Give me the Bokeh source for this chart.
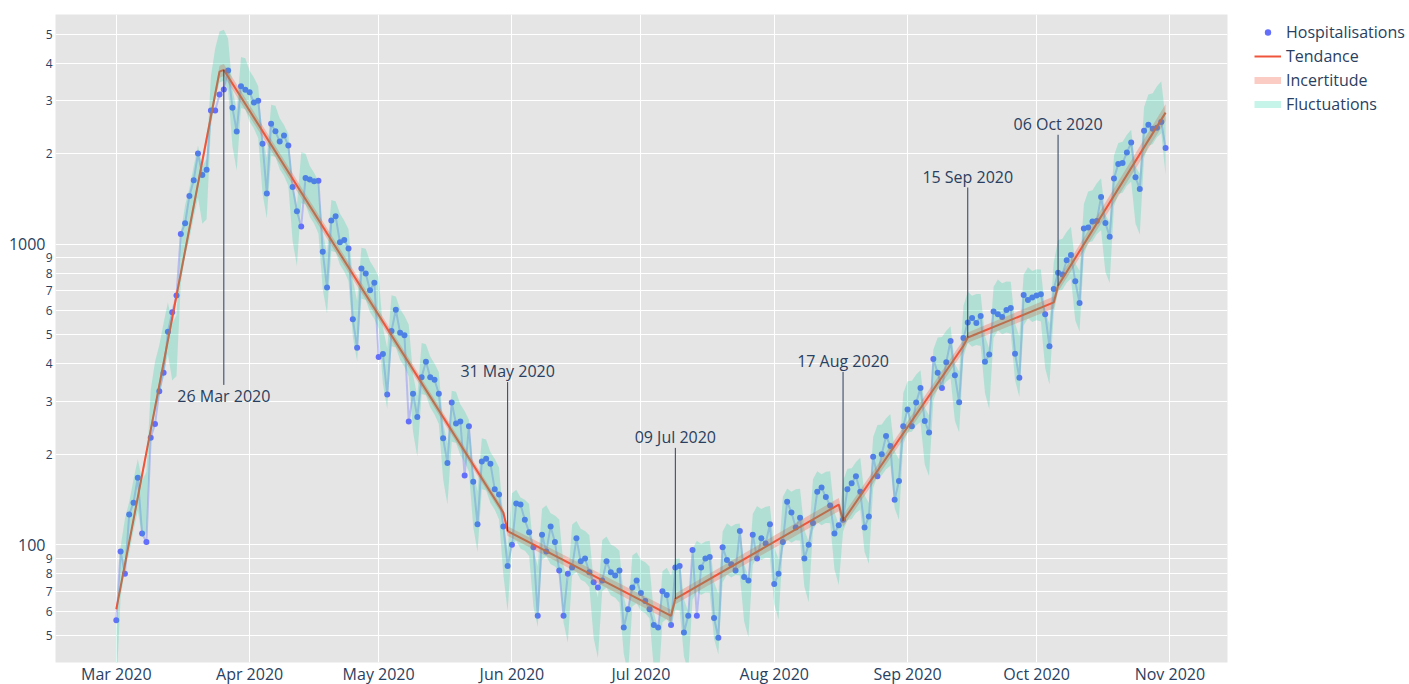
import numpy as np
import pandas as pd
from bokeh.plotting import figure
from bokeh.models import (FixedTicker, CustomJSTickFormatter, DatetimeTickFormatter,
                          LogAxis, Legend, LegendItem, Label, Range1d)
from bokeh.embed import file_html
from bokeh.resources import INLINE

# ---------------- data ----------------
start_date = "2020-03-01"
hosp_mar = [56, 95, 80, 126, 138, 167, 109, 102, 227, 252, 324, 373, 511, 594, 675, 1080,
            1174, 1447, 1632, 2001, 1699, 1770, 2786, 2786, 3148, 3273, 3785, 2845, 2372, 3356, 3266]
hosp_apr = [3200, 2958, 3002, 2160, 1473, 2518, 2373, 2194, 2301, 2128, 1550, 1287, 1145, 1661,
            1640, 1619, 1627, 943, 718, 1198, 1239, 1015, 1033, 967, 562, 452, 830, 799, 703, 744]
hosp_may = [421, 431, 316, 514, 605, 507, 498, 257, 318, 266, 361, 406, 361, 354, 318, 226, 187,
            297, 253, 257, 170, 248, 162, 117, 189, 193, 186, 153, 147, 115, 85]
hosp_jun = [100, 137, 136, 121, 110, 98, 58, 108, 95, 115, 102, 82, 58, 80, 84, 105, 88, 90, 81,
            75, 72, 76, 88, 81, 79, 82, 53, 61, 72, 76]
hosp_jul = [69, 65, 61, 54, 53, 70, 68, 54, 84, 85, 51, 58, 96, 58, 84, 90, 91, 57, 49, 98, 89,
            86, 82, 111, 78, 76, 108, 90, 105, 101, 117]
hosp_aug = [74, 80, 102, 139, 128, 114, 123, 90, 100, 118, 150, 155, 144, 135, 109, 116, 121,
            153, 160, 169, 150, 114, 124, 196, 169, 200, 230, 213, 141, 163, 248]
hosp_sep = [282, 248, 297, 332, 258, 236, 415, 373, 332, 405, 476, 366, 298, 487, 549, 568, 547,
            577, 406, 429, 597, 584, 572, 604, 613, 432, 359, 677, 652, 665]
hosp_oct = [675, 681, 584, 457, 709, 804, 792, 884, 921, 752, 637, 1127, 1136, 1190, 1195, 1436,
            1177, 1058, 1653, 1849, 1863, 2017, 2177, 1670, 1527, 2386, 2498, 2423, 2442, 2548, 2090]

# trend: start / end of each segment (pairs)
trend_dates = ["2020-03-01", "2020-03-25", "2020-03-26", "2020-05-30", "2020-05-31", "2020-07-08",
               "2020-07-09", "2020-08-16", "2020-08-17", "2020-09-14", "2020-09-15", "2020-10-05",
               "2020-10-06", "2020-10-31"]
trend_values = [61, 3750, 3800, 128, 111, 58, 66, 136, 120, 459, 489, 640, 727, 2740]
trend_unc_log = [0.012, 0.02, 0.02, 0.013, 0.016, 0.02, 0.018, 0.022, 0.02, 0.02, 0.017, 0.02,
                 0.02, 0.028]

# weekly fluctuation envelope relative to trend (Mon..Sun)
fluct_lo = [0.92, 0.96, 0.92, 0.92, 0.90, 0.62, 0.54]
fluct_hi = [1.36, 1.42, 1.36, 1.36, 1.34, 0.96, 0.86]

ann_dates = ["2020-03-26", "2020-05-31", "2020-07-09", "2020-08-17", "2020-09-15", "2020-10-06"]
ann_labels = ["26 Mar 2020", "31 May 2020", "09 Jul 2020", "17 Aug 2020", "15 Sep 2020", "06 Oct 2020"]
ann_offset_px = [326, -160, -162, -160, -161, -162]

month_ticks = ["2020-03-01", "2020-04-01", "2020-05-01", "2020-06-01", "2020-07-01",
               "2020-08-01", "2020-09-01", "2020-10-01", "2020-11-01"]
y_minor_ticks = [50, 60, 70, 80, 90, 200, 300, 400, 500, 600, 700, 800, 900, 2000, 3000, 4000, 5000]
y_major_ticks = [100, 1000]

# ---------------- derived ----------------
hosp = hosp_mar + hosp_apr + hosp_may + hosp_jun + hosp_jul + hosp_aug + hosp_sep + hosp_oct
days = pd.date_range(start_date, periods=len(hosp), freq="D")
tdates = pd.to_datetime(trend_dates)
tvals = np.array(trend_values, dtype=float)
tunc = np.array(trend_unc_log)
unc_lo = tvals / 10 ** tunc
unc_hi = tvals * 10 ** tunc

log_tr = np.full(len(days), np.nan)
for k in range(0, len(trend_dates), 2):
    a, b = tdates[k], tdates[k + 1]
    la, lb = np.log10(tvals[k]), np.log10(tvals[k + 1])
    m = (days >= a) & (days <= b)
    frac = np.asarray((days[m] - a) / (b - a), dtype=float)
    log_tr[m] = la + (lb - la) * frac
tr_daily = 10 ** log_tr
wd = days.weekday
band_lo = tr_daily * np.array(fluct_lo)[wd]
band_hi = tr_daily * np.array(fluct_hi)[wd]

# ---------------- figure ----------------
FONT = "Open Sans"
TXT = "#2a3f5f"
FW, FH = 1172, 648
Y0, Y1 = 40.55, 5810
t0 = pd.Timestamp(start_date)
x0 = t0 - pd.Timedelta(days=14.14)
x1 = t0 + pd.Timedelta(days=258.4)

p = figure(x_axis_type="datetime", y_axis_type="log", frame_width=FW, frame_height=FH,
           x_range=Range1d(x0, x1), y_range=Range1d(Y0, Y1),
           output_backend="svg", toolbar_location=None,
           min_border_left=55, min_border_right=182, min_border_top=14, min_border_bottom=0,
           background_fill_color="#e5e5e5", border_fill_color="white", outline_line_color=None)

p.xgrid.ticker = FixedTicker(ticks=[pd.Timestamp(d).value / 1e6 for d in month_ticks])
p.ygrid.ticker = FixedTicker(ticks=sorted(y_minor_ticks + y_major_ticks))
p.grid.grid_line_color = "white"
p.grid.grid_line_width = 1

xa = p.xaxis[0]
xa.ticker = FixedTicker(ticks=[pd.Timestamp(d).value / 1e6 for d in month_ticks])
fmt = "%b %Y"
xa.formatter = DatetimeTickFormatter(microseconds=fmt, milliseconds=fmt, seconds=fmt, minsec=fmt,
                                     minutes=fmt, hourmin=fmt, hours=fmt, days=fmt, months=fmt,
                                     years=fmt)
xa.major_label_text_font = FONT
xa.major_label_text_font_size = "16px"
xa.major_label_text_color = TXT
xa.major_label_standoff = 0
xa.axis_line_color = None
xa.major_tick_line_color = None
xa.minor_tick_line_color = None
xa.major_tick_out = 0
xa.minor_tick_out = 0

ya = p.yaxis[0]
ya.ticker = FixedTicker(ticks=y_minor_ticks)
ya.formatter = CustomJSTickFormatter(code="return String(Math.round(tick)).charAt(0);")
ya.major_label_text_font = FONT
ya.major_label_text_font_size = "12px"
ya.major_label_text_color = TXT
ya.major_label_standoff = 3
ya.axis_line_color = None
ya.major_tick_line_color = None
ya.minor_tick_line_color = None
ya.major_tick_out = 0
ya.minor_tick_out = 0

ya2 = LogAxis(ticker=FixedTicker(ticks=y_major_ticks),
              formatter=CustomJSTickFormatter(code="return String(Math.round(tick));"))
ya2.major_label_text_font = FONT
ya2.major_label_text_font_size = "16px"
ya2.major_label_text_color = TXT
ya2.major_label_standoff = -3
ya2.axis_line_color = None
ya2.major_tick_line_color = None
ya2.minor_tick_line_color = None
ya2.major_tick_out = 0
ya2.minor_tick_out = 0
p.add_layout(ya2, "left")

# data line + markers
p.line(days, hosp, line_color="#636efa", line_alpha=0.35, line_width=2)
r_pts = p.scatter(days, hosp, size=6, fill_color="#636efa", line_color=None)
# trend
r_tr = p.line(tdates, tvals, line_color="#EF553B", line_width=2)
# uncertainty band
p.varea(x=tdates, y1=unc_lo, y2=unc_hi, fill_color="#EF553B", fill_alpha=0.3)
# fluctuation band
p.varea(x=days, y1=band_lo, y2=band_hi, fill_color="#00cc96", fill_alpha=0.22)

# legend proxies (no visible marks)
r_unc = p.line(x=[t0], y=[np.nan], line_color="#EF553B", line_alpha=0.3, line_width=7)
r_fl = p.line(x=[t0], y=[np.nan], line_color="#00cc96", line_alpha=0.22, line_width=7)

# annotations
ppd = FH / (np.log10(Y1) - np.log10(Y0))
for d, lab, off in zip(ann_dates, ann_labels, ann_offset_px):
    dt = pd.Timestamp(d)
    idx = max(i for i, t in enumerate(tdates) if t == dt)
    tip = tvals[idx]
    ytxt = tip * 10 ** (-off / ppd)
    off_line = off - np.sign(off) * 11
    yend = tip * 10 ** (-off_line / ppd)
    p.segment(x0=[dt], y0=[tip], x1=[dt], y1=[yend], line_color=TXT, line_width=1)
    p.add_layout(Label(x=dt.value / 1e6, y=ytxt, text=lab, text_align="center",
                       text_baseline="middle", text_font=FONT, text_font_size="16px",
                       text_color=TXT))

SPACING = 2
LEG_H = 4 * 22 + 3 * SPACING
legend = Legend(items=[LegendItem(label="Hospitalisations", renderers=[r_pts]),
                       LegendItem(label="Tendance", renderers=[r_tr]),
                       LegendItem(label="Incertitude", renderers=[r_unc]),
                       LegendItem(label="Fluctuations", renderers=[r_fl])],
                location=(27, FH - LEG_H - 7),
                label_text_font=FONT, label_text_font_size="16px", label_text_color=TXT,
                glyph_width=27, glyph_height=16, label_standoff=5, spacing=SPACING,
                padding=0, margin=0, background_fill_alpha=0, border_line_alpha=0)
p.add_layout(legend, "right")

open("out.html", "w").write(file_html(p, INLINE))
